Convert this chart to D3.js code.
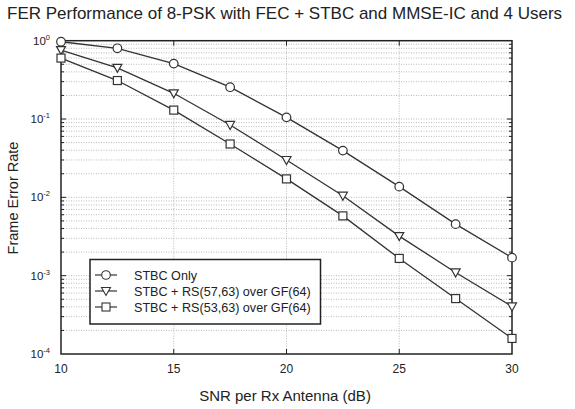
<!DOCTYPE html>
<html><head><meta charset="utf-8">
<script src="https://cdn.jsdelivr.net/npm/d3@7"></script>
<style>body{margin:0;background:#fff}svg{display:block}text{font-family:"Liberation Sans",Arial,sans-serif;fill:#222}</style>
</head><body><svg id="c" width="575" height="409"></svg>
<script>
const snr = [10, 12.5, 15, 17.5, 20, 22.5, 25, 27.5, 30];
const stbcOnly = [0.97, 0.80, 0.51, 0.255, 0.105, 0.0395, 0.0137, 0.00455, 0.0017];
const rs57 = [0.76, 0.45, 0.213, 0.084, 0.030, 0.0105, 0.0032, 0.0011, 0.000405];
const rs53 = [0.60, 0.31, 0.13, 0.048, 0.0172, 0.0058, 0.00166, 0.00051, 0.000158];
const seriesNames = ["STBC Only", "STBC + RS(57,63) over GF(64)", "STBC + RS(53,63) over GF(64)"];
const markers = ["circle", "triangle", "square"];
const xTicks = [10, 15, 20, 25, 30];
const yExps = [0, -1, -2, -3, -4];

const svg = d3.select("#c");
const L = 61, R = 512, T = 40.7, B = 354;
const x = d3.scaleLinear().domain([10, 30]).range([L, R]);
const y = d3.scaleLog().domain([1e-4, 1]).range([B, T]);

// grid
const g = svg.append("g");
const minors = [];
for (let e = -4; e < 0; e++) for (let m = 2; m <= 9; m++) minors.push(m * Math.pow(10, e));
const majors = [1e-3, 1e-2, 1e-1];
g.selectAll("line.hg").data(minors.concat(majors)).enter().append("line")
  .attr("x1", L).attr("x2", R).attr("y1", d => y(d)).attr("y2", d => y(d))
  .attr("stroke", "#aaa").attr("stroke-width", 0.8).attr("stroke-dasharray", "1,1.5");
g.selectAll("line.vg").data([15, 20, 25]).enter().append("line")
  .attr("y1", T).attr("y2", B).attr("x1", d => x(d)).attr("x2", d => x(d))
  .attr("stroke", "#aaa").attr("stroke-width", 0.8).attr("stroke-dasharray", "1,1.5");

// ticks (inward)
const tk = svg.append("g").attr("stroke", "#222").attr("stroke-width", 1);
[15, 20, 25].forEach(v => {
  tk.append("line").attr("x1", x(v)).attr("x2", x(v)).attr("y1", B).attr("y2", B - 5);
  tk.append("line").attr("x1", x(v)).attr("x2", x(v)).attr("y1", T).attr("y2", T + 5);
});
minors.concat(majors).forEach(v => {
  const len = majors.includes(v) ? 5 : 3;
  tk.append("line").attr("x1", L).attr("x2", L + len).attr("y1", y(v)).attr("y2", y(v));
  tk.append("line").attr("x1", R).attr("x2", R - len).attr("y1", y(v)).attr("y2", y(v));
});

// frame
svg.append("rect").attr("x", L).attr("y", T).attr("width", R - L).attr("height", B - T)
  .attr("fill", "none").attr("stroke", "#222").attr("stroke-width", 1.5);

// x tick labels
svg.selectAll("text.xt").data(xTicks).enter().append("text")
  .attr("x", d => x(d)).attr("y", B + 19).attr("text-anchor", "middle")
  .attr("font-size", 12).text(d => d);

// y tick labels
yExps.forEach(e => {
  const t = svg.append("text").attr("x", 50).attr("y", y(Math.pow(10, e)) + 4)
    .attr("text-anchor", "end").attr("font-size", 11.5);
  t.append("tspan").text("10");
  t.append("tspan").attr("dy", -5).attr("font-size", 7.5).text(e);
});

// titles
svg.append("text").attr("x", 7).attr("y", 19).attr("font-size", 17).text("FER Performance of 8-PSK with FEC + STBC and MMSE-IC and 4 Users");
svg.append("text").attr("x", 285).attr("y", 401).attr("text-anchor", "middle").attr("font-size", 15).text("SNR per Rx Antenna (dB)");
svg.append("text").attr("transform", "translate(18,198) rotate(-90)").attr("text-anchor", "middle").attr("font-size", 14.5).text("Frame Error Rate");

// series
const data = [stbcOnly, rs57, rs53];
const line = d3.line().x((d, i) => x(snr[i])).y(d => y(d));
function drawMarker(sel, type, cx, cy) {
  if (type === "circle") sel.append("circle").attr("cx", cx).attr("cy", cy).attr("r", 4.3);
  else if (type === "square") sel.append("rect").attr("x", cx - 4).attr("y", cy - 4).attr("width", 8).attr("height", 8);
  else sel.append("path").attr("d", `M${cx-4.5},${cy-3.5}L${cx+4.5},${cy-3.5}L${cx},${cy+4.5}Z`);
}
data.forEach((s, k) => {
  svg.append("path").datum(s).attr("d", line).attr("fill", "none").attr("stroke", "#333").attr("stroke-width", 1.3);
  const mg = svg.append("g").attr("fill", "#fff").attr("stroke", "#333").attr("stroke-width", 1.2);
  s.forEach((v, i) => drawMarker(mg, markers[k], x(snr[i]), y(v)));
});

// legend
const lg = svg.append("g");
lg.append("rect").attr("x", 90).attr("y", 259.5).attr("width", 230.5).attr("height", 64.5)
  .attr("fill", "#fff").attr("stroke", "#222").attr("stroke-width", 1.5);
seriesNames.forEach((n, k) => {
  const yy = 275 + k * 16;
  lg.append("line").attr("x1", 95).attr("x2", 117).attr("y1", yy).attr("y2", yy).attr("stroke", "#333").attr("stroke-width", 1.2);
  const mg = lg.append("g").attr("fill", "#fff").attr("stroke", "#333").attr("stroke-width", 1.1);
  drawMarker(mg, markers[k], 106, yy);
  lg.append("text").attr("x", 134).attr("y", yy + 4.5).attr("font-size", 12.6).text(n);
});
</script>
</body></html>
